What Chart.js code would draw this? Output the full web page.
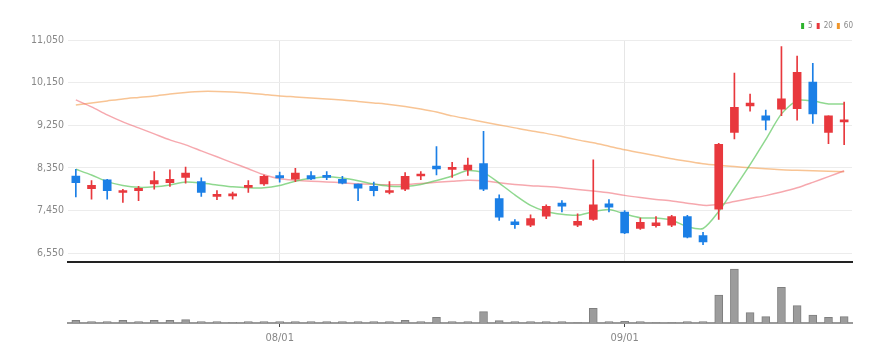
<!DOCTYPE html>
<html>
<head>
<meta charset="utf-8">
<script src="https://cdn.jsdelivr.net/npm/chart.js@4.4.0/dist/chart.umd.min.js"></script>
<style>
  html, body { margin: 0; padding: 0; background: #ffffff; }
  #wrap { position: relative; width: 895px; height: 363px; overflow: hidden; background: #fff; }
  #priceBox { position: absolute; left: 0; top: 0; width: 895px; height: 272px; }
  #volBox { position: absolute; left: 0; top: 264px; width: 895px; height: 99px; }
</style>
</head>
<body>
<div id="wrap">
  <div id="priceBox"><canvas id="priceCanvas" width="895" height="272"></canvas></div>
  <div id="volBox"><canvas id="volCanvas" width="895" height="99"></canvas></div>
</div>
<script>
// ---------- data ----------
const dates = ['07/13','07/14','07/15','07/18','07/19','07/20','07/21','07/22','07/25','07/26','07/27','07/28','07/29',
  '08/01','08/02','08/03','08/04','08/05','08/08','08/09','08/10','08/11','08/12','08/16','08/17','08/18','08/19',
  '08/22','08/23','08/24','08/25','08/26','08/29','08/30','08/31',
  '09/01','09/02','09/05','09/06','09/07','09/08','09/13','09/14','09/15','09/16','09/19','09/20','09/21','09/22','09/23'];
const shownDates = ['08/01', '09/01'];
const priceTicks = [6550, 7450, 8350, 9250, 10150, 11050];

const opens  = [8180,7910,8100,7830,7870,8010,8040,8150,8060,7750,7760,7940,8010,8190,8110,8190,8180,8110,8010,7960,7830,7900,8180,8390,8320,8310,8440,7700,7210,7140,7330,7610,7140,7260,7590,7420,7070,7130,7140,7320,6920,7480,9100,9660,9450,9590,9600,10160,9100,9320];
const closes = [8040,7980,7870,7870,7920,8080,8110,8240,7830,7780,7800,7980,8170,8140,8240,8120,8150,8030,7920,7870,7870,8170,8220,8330,8360,8410,7900,7310,7150,7280,7540,7540,7220,7570,7520,6980,7200,7190,7320,6890,6790,8850,9630,9720,9360,9810,10370,9490,9450,9360];
const highs  = [8320,8080,8110,7900,7960,8270,8310,8370,8140,7870,7840,8080,8200,8260,8340,8270,8270,8170,8010,8050,8060,8250,8270,8800,8470,8560,9120,7780,7260,7360,7570,7660,7380,8520,7680,7450,7290,7320,7350,7350,6990,8870,10350,9910,9570,10910,10710,10560,9450,9740];
const lows   = [7740,7690,7690,7620,7660,7900,7960,8030,7750,7680,7690,7830,7980,8050,8060,8100,8100,8010,7660,7760,7800,7870,8100,8200,8150,8190,7870,7240,7070,7110,7280,7420,7110,7240,7420,6960,7050,7100,7110,6870,6730,7260,8960,9550,9150,9450,9360,9290,8860,8840];
const volumes = [54000,26000,26000,54000,26000,54000,54000,66000,26000,26000,12000,26000,26000,26000,26000,26000,26000,26000,26000,26000,26000,54000,26000,114000,26000,26000,226000,46000,26000,26000,26000,26000,8000,294000,26000,34000,26000,8000,8000,26000,26000,560000,1080000,206000,126000,714000,346000,160000,114000,126000];

const ma5  = [8320,8200,8060,7980,7940,7950,7990,8050,8030,7990,7950,7930,7930,7980,8070,8130,8165,8135,8080,8010,7965,7960,8000,8085,8180,8295,8250,8030,7780,7560,7430,7370,7350,7425,7470,7380,7300,7290,7245,7110,7070,7430,7920,8420,8950,9490,9770,9760,9700,9700];
const ma20 = [9785,9638,9469,9322,9195,9069,8942,8837,8710,8584,8457,8331,8204,8120,8090,8070,8055,8036,8015,8004,7995,8000,8020,8045,8068,8090,8078,8035,8000,7975,7958,7932,7895,7862,7825,7770,7725,7685,7650,7605,7560,7575,7640,7705,7765,7840,7930,8045,8165,8290];
const ma60 = [9680,9722,9764,9806,9838,9870,9912,9943,9964,9964,9954,9933,9901,9870,9849,9827,9806,9785,9754,9722,9690,9648,9595,9532,9448,9385,9321,9258,9195,9132,9079,9012,8942,8879,8805,8731,8668,8605,8541,8489,8436,8404,8379,8352,8331,8310,8300,8289,8278,8268];

// ---------- styles ----------
const UP = '#e8383d', DOWN = '#1b7fe6';
const FONT = "'Liberation Sans Narrow', 'DejaVu Sans Condensed', 'Liberation Sans', sans-serif";
const candleColors = opens.map((o, i) => closes[i] >= o ? UP : DOWN);
const maDefs = [
  { label: '5',  data: ma5,  line: 'rgba(95,200,95,0.7)',  key: '#2db32d' },
  { label: '20', data: ma20, line: 'rgba(240,110,120,0.6)', key: '#e8383d' },
  { label: '60', data: ma60, line: 'rgba(245,165,90,0.65)', key: '#f0962a' }
];

const filterDateTicks = (axis) => {
  axis.ticks = axis.ticks.filter(t => shownDates.includes(dates[t.value]));
};

// ---------- price chart ----------
new Chart(document.getElementById('priceCanvas'), {
  type: 'bar',
  data: {
    labels: dates,
    datasets: [
      ...maDefs.map(m => ({
        type: 'line', label: m.label, data: m.data,
        borderColor: m.line, backgroundColor: m.key, borderWidth: 1.5,
        pointRadius: 0, tension: 0.25, fill: false, order: 3
      })),
      {
        label: 'wick', data: lows.map((l, i) => [l, highs[i]]),
        backgroundColor: candleColors, barThickness: 1, grouped: false, order: 2
      },
      {
        label: 'body', data: opens.map((o, i) => [o, closes[i]]),
        backgroundColor: candleColors, barThickness: 8, minBarLength: 2, grouped: false, order: 1
      }
    ]
  },
  options: {
    responsive: false, animation: false, devicePixelRatio: 1,
    layout: { padding: { top: 18, right: 38, left: 0, bottom: 0 } },
    plugins: {
      tooltip: { enabled: false },
      legend: {
        display: true, position: 'top', align: 'end',
        labels: {
          boxWidth: 3, boxHeight: 6, padding: 4, color: '#888',
          font: { size: 8, family: FONT },
          generateLabels: () => maDefs.map((m, i) => ({
            text: m.label, fillStyle: m.key, strokeStyle: m.key, lineWidth: 0,
            hidden: false, datasetIndex: i, fontColor: '#888'
          }))
        }
      }
    },
    scales: {
      x: {
        offset: true,
        grid: { offset: false, color: '#e6e6e6', drawTicks: false },
        ticks: { display: false },
        border: { color: '#222', width: 2 },
        afterBuildTicks: filterDateTicks,
        afterFit: s => { s.height = 3; }
      },
      y: {
        position: 'left', min: 6370, max: 11050,
        afterBuildTicks: axis => { axis.ticks = priceTicks.map(v => ({ value: v })); },
        ticks: {
          color: '#888', padding: 4, font: { size: 10.5, family: FONT },
          callback: v => Number(v).toLocaleString('en-US')
        },
        grid: { color: '#ececec', drawTicks: false },
        border: { display: false },
        afterFit: s => { s.width = 68; }
      },
      y2: {
        type: 'linear', position: 'right', display: true,
        ticks: { display: false }, grid: { display: false }, border: { display: false },
        afterFit: s => { s.width = 5; }
      }
    }
  }
});

// ---------- volume chart ----------
new Chart(document.getElementById('volCanvas'), {
  type: 'bar',
  data: {
    labels: dates,
    datasets: [{
      label: 'volume', data: volumes,
      backgroundColor: '#9c9c9c', borderColor: '#7f7f7f', borderWidth: 1,
      barThickness: 8
    }]
  },
  options: {
    responsive: false, animation: false, devicePixelRatio: 1,
    layout: { padding: { top: 3, right: 43, left: 0, bottom: 0 } },
    plugins: { legend: { display: false }, tooltip: { enabled: false } },
    scales: {
      x: {
        offset: true,
        grid: { offset: false, drawOnChartArea: false, drawTicks: true, tickLength: 4, tickColor: '#444', tickWidth: 1 },
        border: { color: '#9a9a9a', width: 2 },
        ticks: { color: '#888', padding: 5, autoSkip: false, maxRotation: 0, font: { size: 11, family: FONT } },
        afterBuildTicks: filterDateTicks,
        afterFit: s => { s.height = 40; }
      },
      y: {
        min: 0, max: 1120000, display: true,
        ticks: { display: false }, grid: { display: false }, border: { display: false },
        afterFit: s => { s.width = 68; }
      }
    }
  }
});
</script>
</body>
</html>
